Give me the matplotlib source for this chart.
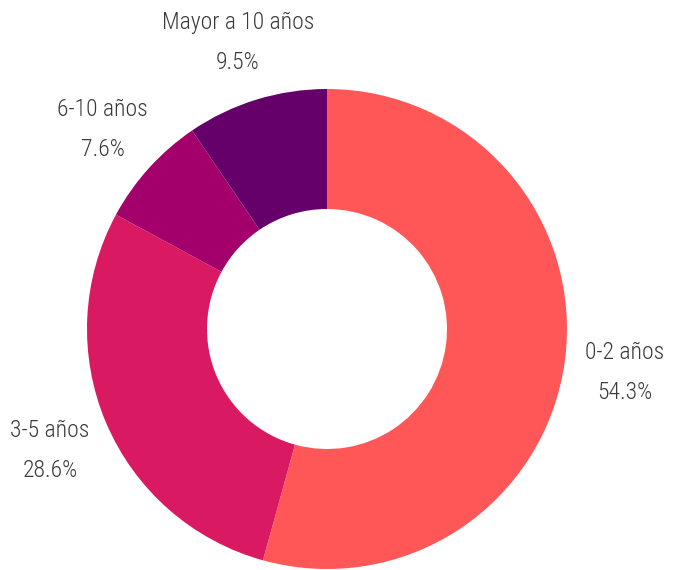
import numpy as np
import matplotlib
matplotlib.use("Agg")
import matplotlib.pyplot as plt

categorias = ["0-2 años", "3-5 años", "6-10 años", "Mayor a 10 años"]
porcentajes = [54.3, 28.6, 7.6, 9.5]
colores = ["#FF5757", "#D91A63", "#A3006B", "#65006B"]

W, H = 673, 570
fig = plt.figure(figsize=(W / 100, H / 100), dpi=100)
ax = fig.add_axes([0, 0, 1, 1])

cx, cy = 327, H - 329
radio = 240
wedges, _ = ax.pie(porcentajes, colors=colores, startangle=90, counterclock=False,
                   radius=radio, center=(cx, cy),
                   wedgeprops=dict(width=radio * 0.5, linewidth=0))

# pie() cambia los limites, se fijan despues en pixeles
ax.set_xlim(0, W)
ax.set_ylim(0, H)
ax.set_aspect("equal")
ax.axis("off")

# etiquetas fuera del anillo, en el angulo medio de cada porcion
fuente = ["Roboto Condensed", "Roboto", "DejaVu Sans"]
for w, cat, p in zip(wedges, categorias, porcentajes):
    ang = np.deg2rad((w.theta1 + w.theta2) / 2)
    x = cx + radio * 1.26 * np.cos(ang)
    y = cy + radio * 1.26 * np.sin(ang) - 3
    x = min(max(x, 50), W - 48)
    for dy, txt in ((20, cat), (-20, f"{p}%")):
        ax.text(x, y + dy, txt, ha="center", va="center", fontsize=17,
                color="#3a3a3a", family=fuente, weight="light",
                stretch="condensed")

fig.savefig("out.png", dpi=100)
